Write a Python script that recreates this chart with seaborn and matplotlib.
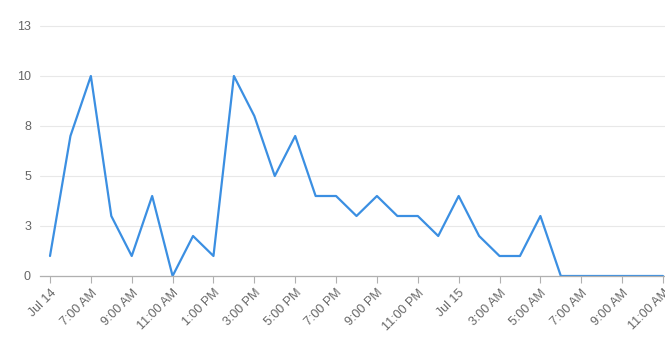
import matplotlib
matplotlib.use("Agg")
import matplotlib.pyplot as plt
import seaborn as sns
import pandas as pd
import numpy as np

# ---- data ----
start_time = "2024-07-14 05:00"
counts = [1, 7, 10, 3, 1, 4, 0, 2, 1, 10, 8, 5, 7, 4, 4, 3, 4, 3, 3, 2,
          4, 2, 1, 1, 3, 0, 0, 0, 0, 0, 0]
x_tick_labels = ["Jul 14", "7:00 AM", "9:00 AM", "11:00 AM", "1:00 PM", "3:00 PM",
                 "5:00 PM", "7:00 PM", "9:00 PM", "11:00 PM", "Jul 15", "3:00 AM",
                 "5:00 AM", "7:00 AM", "9:00 AM", "11:00 AM"]
y_ticks = [0, 2.5, 5, 7.5, 10, 12.5]
y_tick_labels = ["0", "3", "5", "8", "10", "13"]

times = pd.date_range(start_time, periods=len(counts), freq="h")
df = pd.DataFrame({"time": times, "count": counts})
df["hours"] = (df["time"] - df["time"].iloc[0]) / pd.Timedelta(hours=1)

sns.set_theme(style="white")
plt.rcParams["font.family"] = ["Liberation Sans", "DejaVu Sans"]

W, H = 665, 337
fig = plt.figure(figsize=(W / 100, H / 100), dpi=100)
ax = fig.add_axes([40 / W, (H - 276) / H, (665 - 40) / W, (276 - 26) / H])

sns.lineplot(data=df, x="hours", y="count", ax=ax, color="#3b8fe2", linewidth=1.6)

px_per_hr = (663 - 50) / 30
ax.set_xlim(-(50 - 40) / px_per_hr, (665 - 50) / px_per_hr)
ax.set_ylim(0, 12.5)

ax.set_yticks(y_ticks)
ax.set_yticklabels(y_tick_labels)
tick_pos = np.arange(0, len(counts), 2)[:len(x_tick_labels)]
ax.set_xticks(tick_pos)
ax.set_xticklabels(x_tick_labels, rotation=45, ha="right", rotation_mode="anchor")

ax.set_xlabel("")
ax.set_ylabel("")
for s in ["top", "right", "left"]:
    ax.spines[s].set_visible(False)
ax.spines["bottom"].set_color("#b0b0b0")
ax.spines["bottom"].set_linewidth(0.9)

ax.grid(axis="y", color="#e8e8e8", linewidth=0.8)
ax.grid(axis="x", visible=False)
ax.set_axisbelow(True)
for gl in ax.get_ygridlines():
    gl.set_clip_on(False)

ax.tick_params(axis="x", bottom=True, length=5, width=0.8, color="#b0b0b0",
               labelsize=9, labelcolor="#666666", pad=3)
ax.tick_params(axis="y", left=False, length=0, labelsize=9, labelcolor="#666666", pad=6.5)

fig.savefig("out.png", dpi=100)
